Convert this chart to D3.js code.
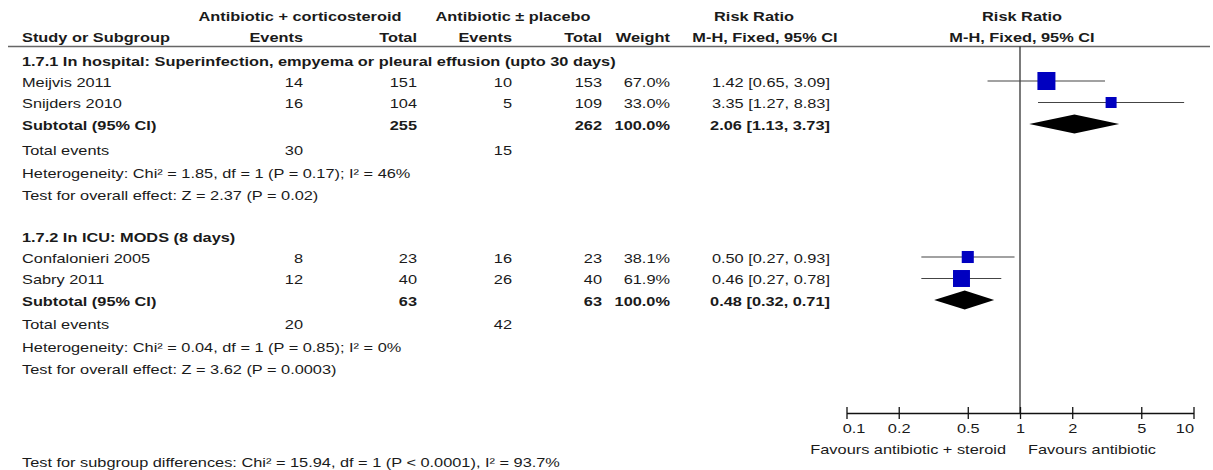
<!DOCTYPE html>
<html>
<head>
<meta charset="utf-8">
<script src="https://cdn.jsdelivr.net/npm/d3@7"></script>
<style>
  html, body { margin: 0; padding: 0; background: #fff; }
  svg { display: block; }
  text { font-family: "Liberation Sans", Arial, sans-serif; font-size: 13.5px; fill: #1a1a1a; }
  .b { font-weight: bold; }
</style>
</head>
<body>
<svg id="chart" width="1213" height="470"></svg>
<script>
// ---------------- DATA ----------------
const studies   = ["Meijvis 2011", "Snijders 2010", "Confalonieri 2005", "Sabry 2011"];
const studyGroup = [0, 0, 1, 1];
const events1   = [14, 16, 8, 12];
const total1    = [151, 104, 23, 40];
const events2   = [10, 5, 16, 26];
const total2    = [153, 109, 23, 40];
const weights   = [67.0, 33.0, 38.1, 61.9];
const rr        = [1.42, 3.35, 0.50, 0.46];
const rrLow     = [0.65, 1.27, 0.27, 0.27];
const rrHigh    = [3.09, 8.83, 0.93, 0.78];

const groupTitles   = ["1.7.1 In hospital: Superinfection, empyema or pleural effusion (upto 30 days)",
                       "1.7.2 In ICU: MODS (8 days)"];
const subTotal1     = [255, 63];
const subTotal2     = [262, 63];
const subWeight     = [100.0, 100.0];
const subRR         = [2.06, 0.48];
const subLow        = [1.13, 0.32];
const subHigh       = [3.73, 0.71];
const totEvents1    = [30, 20];
const totEvents2    = [15, 42];
const heterogeneity = ["Heterogeneity: Chi\u00b2 = 1.85, df = 1 (P = 0.17); I\u00b2 = 46%",
                       "Heterogeneity: Chi\u00b2 = 0.04, df = 1 (P = 0.85); I\u00b2 = 0%"];
const overallTest   = ["Test for overall effect: Z = 2.37 (P = 0.02)",
                       "Test for overall effect: Z = 3.62 (P = 0.0003)"];
const subgroupTest  = "Test for subgroup differences: Chi\u00b2 = 15.94, df = 1 (P < 0.0001), I\u00b2 = 93.7%";

const tickValues = [0.1, 0.2, 0.5, 1, 2, 5, 10];
const tickLabels = ["0.1", "0.2", "0.5", "1", "2", "5", "10"];
const favoursLeft  = "Favours antibiotic + steroid";
const favoursRight = "Favours antibiotic";

// ---------------- LAYOUT ----------------
const STRETCH = 1.21;   // reference glyphs are horizontally wider than plain Arial
const svg = d3.select("#chart");
const x = d3.scaleLog().domain([0.1, 10]).range([846.5, 1193.5]);
const sq = d3.scaleLinear().domain([0, 100]).range([4.2, 24.8]);

const rowY = {
  h1: 16, h2: 37, line: 46.5,
  groups: [
    { title: 61, studies: [82, 103.5], sub: 125, tot: 150, het: 173, test: 195 },
    { title: 237, studies: [258, 279.5], sub: 301, tot: 324, het: 347, test: 369 }
  ],
  axis: 413, tick: 428, fav: 449, subtest: 462
};
const col = { study: 22, ev1: 303, tot1: 417, ev2: 512, tot2: 602, wt: 670, ci: 830,
              h1a: 300, h1b: 513, rrh: 754, cih: 765, plotH: 1022 };

function stretch(sel) {
  sel.each(function () {
    const w = this.getComputedTextLength();
    d3.select(this).attr("textLength", w * STRETCH).attr("lengthAdjust", "spacingAndGlyphs");
  });
  return sel;
}
function txt(xp, yp, s, anchor, bold) {
  const t = svg.append("text")
    .attr("x", xp).attr("y", yp).attr("dy", "0.35em")
    .attr("text-anchor", anchor || "start")
    .attr("class", bold ? "b" : null)
    .text(s);
  return stretch(t);
}
const f2 = d3.format(".2f");
const f1 = d3.format(".1f");
const ciStr = (e, l, h) => `${f2(e)} [${f2(l)}, ${f2(h)}]`;

// headers
txt(col.h1a, rowY.h1, "Antibiotic + corticosteroid", "middle", true);
txt(col.h1b, rowY.h1, "Antibiotic \u00b1 placebo", "middle", true);
txt(col.rrh, rowY.h1, "Risk Ratio", "middle", true);
txt(col.plotH, rowY.h1, "Risk Ratio", "middle", true);
txt(col.study, rowY.h2, "Study or Subgroup", "start", true);
txt(col.ev1, rowY.h2, "Events", "end", true);
txt(col.tot1, rowY.h2, "Total", "end", true);
txt(col.ev2, rowY.h2, "Events", "end", true);
txt(col.tot2, rowY.h2, "Total", "end", true);
txt(col.wt, rowY.h2, "Weight", "end", true);
txt(col.cih, rowY.h2, "M-H, Fixed, 95% CI", "middle", true);
txt(col.plotH, rowY.h2, "M-H, Fixed, 95% CI", "middle", true);

svg.append("line").attr("x1", 8).attr("x2", 1210)
  .attr("y1", rowY.line).attr("y2", rowY.line)
  .attr("stroke", "#666").attr("stroke-width", 1.6);

// line of no effect
svg.append("line").attr("x1", x(1)).attr("x2", x(1))
  .attr("y1", rowY.line).attr("y2", rowY.axis)
  .attr("stroke", "#333").attr("stroke-width", 1.3);

groupTitles.forEach((title, g) => {
  const L = rowY.groups[g];
  txt(col.study, L.title, title, "start", true);
  const idx = studies.map((s, i) => i).filter(i => studyGroup[i] === g);
  idx.forEach((i, k) => {
    const y = L.studies[k];
    txt(col.study, y, studies[i]);
    txt(col.ev1, y, events1[i], "end");
    txt(col.tot1, y, total1[i], "end");
    txt(col.ev2, y, events2[i], "end");
    txt(col.tot2, y, total2[i], "end");
    txt(col.wt, y, f1(weights[i]) + "%", "end");
    txt(col.ci, y, ciStr(rr[i], rrLow[i], rrHigh[i]), "end");
    svg.append("line")
      .attr("x1", x(rrLow[i])).attr("x2", x(rrHigh[i]))
      .attr("y1", y - 1).attr("y2", y - 1)
      .attr("stroke", "#444").attr("stroke-width", 1.2);
    const s = sq(weights[i]);
    svg.append("rect")
      .attr("x", x(rr[i]) - s / 2).attr("y", y - 1 - s / 2)
      .attr("width", s).attr("height", s)
      .attr("fill", "#0000c0");
  });
  txt(col.study, L.sub, "Subtotal (95% CI)", "start", true);
  txt(col.tot1, L.sub, subTotal1[g], "end", true);
  txt(col.tot2, L.sub, subTotal2[g], "end", true);
  txt(col.wt, L.sub, f1(subWeight[g]) + "%", "end", true);
  txt(col.ci, L.sub, ciStr(subRR[g], subLow[g], subHigh[g]), "end", true);
  const dy = L.sub - 1, hh = 9.5;
  svg.append("path")
    .attr("d", d3.line()([[x(subLow[g]), dy], [x(subRR[g]), dy - hh], [x(subHigh[g]), dy], [x(subRR[g]), dy + hh]]) + "Z")
    .attr("fill", "#000");
  txt(col.study, L.tot, "Total events");
  txt(col.ev1, L.tot, totEvents1[g], "end");
  txt(col.ev2, L.tot, totEvents2[g], "end");
  txt(col.study, L.het, heterogeneity[g]);
  txt(col.study, L.test, overallTest[g]);
});

// axis
const axis = d3.axisBottom(x).tickValues(tickValues)
  .tickFormat((d, i) => tickLabels[i]).tickSizeInner(6).tickSizeOuter(0).tickPadding(8);
const ag = svg.append("g").attr("transform", `translate(0,${rowY.axis})`).call(axis);
ag.select(".domain").attr("stroke", "#111").attr("stroke-width", 1.3);
ag.selectAll(".tick line").attr("y1", -6).attr("y2", 6).attr("stroke", "#111").attr("stroke-width", 1.3);
ag.selectAll(".tick text")
  .attr("font-family", "Liberation Sans, Arial, sans-serif")
  .attr("font-size", "13.5px").attr("fill", "#1a1a1a")
  .attr("y", rowY.tick - rowY.axis).attr("dy", "0.35em")
  .attr("x", (d, i) => i === 0 ? 7 : 0)
  .attr("text-anchor", (d, i) => i === tickValues.length - 1 ? "end" : "middle")
  .call(stretch);

txt(1006, rowY.fav, favoursLeft, "end");
txt(1028, rowY.fav, favoursRight, "start");
txt(col.study, rowY.subtest, subgroupTest);
</script>
</body>
</html>
